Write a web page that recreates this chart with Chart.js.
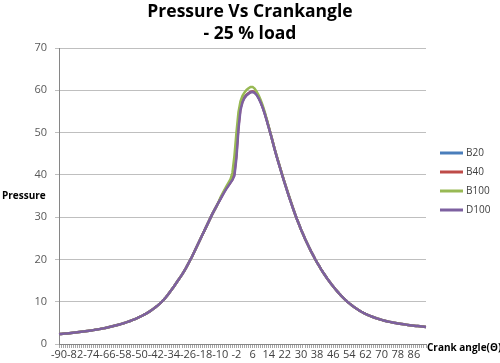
<!DOCTYPE html>
<html>
<head>
<meta charset="utf-8">
<script src="https://cdn.jsdelivr.net/npm/chart.js@4/dist/chart.umd.min.js"></script>
<style>
  html, body { margin: 0; padding: 0; background: #fff; }
  #wrap { width: 500px; height: 363px; }
</style>
</head>
<body>
<div id="wrap"><canvas id="pressureChart" width="500" height="363"></canvas></div>
<script>
// crank angle categories, -90 .. 92 deg in 1 deg steps
const angles = Array.from({ length: 183 }, (_, i) => i - 90);
const seriesNames = ['B20', 'B40', 'B100', 'D100'];
const seriesColors = ['#4A7EBB', '#BE4B48', '#98B954', '#7D60A0'];

const b20 = [
  2.35, 2.39, 2.43, 2.47, 2.51, 2.56, 2.61, 2.66, 2.71, 2.76,
  2.82, 2.88, 2.94, 3.00, 3.07, 3.14, 3.21, 3.28, 3.36, 3.44,
  3.52, 3.61, 3.70, 3.80, 3.90, 4.01, 4.12, 4.24, 4.36, 4.49,
  4.62, 4.76, 4.91, 5.06, 5.22, 5.39, 5.57, 5.76, 5.96, 6.17,
  6.39, 6.62, 6.87, 7.13, 7.41, 7.71, 8.03, 8.37, 8.74, 9.13,
  9.55, 10.0, 10.5, 11.05, 11.65, 12.3, 12.95, 13.6, 14.3, 15.0,
  15.7, 16.4, 17.2, 18.0, 18.9, 19.8, 20.7, 21.7, 22.7, 23.7,
  24.7, 25.7, 26.7, 27.7, 28.7, 29.7, 30.7, 31.6, 32.5, 33.4,
  34.3, 35.2, 36.1, 36.9, 37.6, 38.3, 39.0, 41.0, 46.0, 52.5,
  56.5, 57.8, 58.4, 58.9, 59.3, 59.6, 59.7, 59.5, 59.0, 58.2,
  57.2, 56.0, 54.6, 53.0, 51.3, 49.6, 47.8, 46.0, 44.3, 42.7,
  41.1, 39.5, 38.0, 36.5, 35.0, 33.6, 32.2, 30.8, 29.5, 28.3,
  27.1, 26.0, 24.9, 23.9, 22.9, 21.9, 21.0, 20.1, 19.25, 18.45,
  17.65, 16.9, 16.2, 15.5, 14.85, 14.2, 13.6, 13.0, 12.45, 11.9,
  11.4, 10.9, 10.45, 10.0, 9.6, 9.22, 8.86, 8.52, 8.2, 7.9,
  7.62, 7.36, 7.12, 6.9, 6.69, 6.5, 6.32, 6.15, 5.99, 5.84,
  5.7, 5.57, 5.45, 5.34, 5.23, 5.13, 5.04, 4.95, 4.87, 4.79,
  4.72, 4.65, 4.58, 4.52, 4.46, 4.4, 4.34, 4.28, 4.23, 4.18,
  4.13, 4.08, 4.03
];

const b40 = [
  2.35, 2.39, 2.43, 2.47, 2.51, 2.56, 2.61, 2.66, 2.71, 2.76,
  2.82, 2.88, 2.94, 3.00, 3.07, 3.14, 3.21, 3.28, 3.36, 3.44,
  3.52, 3.61, 3.70, 3.80, 3.90, 4.01, 4.12, 4.24, 4.36, 4.49,
  4.62, 4.76, 4.91, 5.06, 5.22, 5.39, 5.57, 5.76, 5.96, 6.17,
  6.39, 6.62, 6.87, 7.13, 7.41, 7.71, 8.03, 8.37, 8.74, 9.13,
  9.55, 10.0, 10.5, 11.05, 11.65, 12.3, 12.95, 13.6, 14.3, 15.0,
  15.7, 16.4, 17.2, 18.0, 18.9, 19.8, 20.7, 21.7, 22.7, 23.7,
  24.7, 25.7, 26.7, 27.7, 28.7, 29.7, 30.7, 31.6, 32.5, 33.4,
  34.3, 35.2, 36.1, 36.9, 37.5, 38.2, 38.9, 40.3, 45.0, 51.5,
  55.8, 57.4, 58.3, 58.9, 59.3, 59.6, 59.7, 59.6, 59.1, 58.3,
  57.3, 56.0, 54.6, 53.0, 51.3, 49.6, 47.8, 46.0, 44.3, 42.7,
  41.1, 39.5, 38.0, 36.5, 35.0, 33.6, 32.2, 30.8, 29.5, 28.3,
  27.1, 26.0, 24.9, 23.9, 22.9, 21.9, 21.0, 20.1, 19.25, 18.45,
  17.65, 16.9, 16.2, 15.5, 14.85, 14.2, 13.6, 13.0, 12.45, 11.9,
  11.4, 10.9, 10.45, 10.0, 9.6, 9.22, 8.86, 8.52, 8.2, 7.9,
  7.62, 7.36, 7.12, 6.9, 6.69, 6.5, 6.32, 6.15, 5.99, 5.84,
  5.7, 5.57, 5.45, 5.34, 5.23, 5.13, 5.04, 4.95, 4.87, 4.79,
  4.72, 4.65, 4.58, 4.52, 4.46, 4.4, 4.34, 4.28, 4.23, 4.18,
  4.13, 4.08, 4.03
];

const b100 = [
  2.35, 2.39, 2.43, 2.47, 2.51, 2.56, 2.61, 2.66, 2.71, 2.76,
  2.82, 2.88, 2.94, 3.00, 3.07, 3.14, 3.21, 3.28, 3.36, 3.44,
  3.52, 3.61, 3.70, 3.80, 3.90, 4.01, 4.12, 4.24, 4.36, 4.49,
  4.62, 4.76, 4.91, 5.06, 5.22, 5.39, 5.57, 5.76, 5.96, 6.17,
  6.39, 6.62, 6.87, 7.13, 7.41, 7.71, 8.03, 8.37, 8.74, 9.13,
  9.55, 10.0, 10.5, 11.05, 11.65, 12.3, 12.95, 13.6, 14.3, 15.0,
  15.7, 16.4, 17.2, 18.0, 18.9, 19.8, 20.7, 21.7, 22.7, 23.7,
  24.7, 25.7, 26.7, 27.7, 28.7, 29.7, 30.7, 31.6, 32.5, 33.4,
  34.6, 35.5, 36.4, 37.3, 38.1, 38.9, 40.5, 44.5, 50.0, 54.8,
  57.4, 58.7, 59.5, 60.1, 60.5, 60.8, 60.8, 60.4, 59.7, 58.8,
  57.7, 56.4, 54.9, 53.2, 51.4, 49.6, 47.8, 46.0, 44.3, 42.7,
  41.1, 39.5, 38.0, 36.5, 35.0, 33.6, 32.2, 30.8, 29.5, 28.3,
  27.1, 26.0, 24.9, 23.9, 22.9, 21.9, 21.0, 20.1, 19.25, 18.45,
  17.65, 16.9, 16.2, 15.5, 14.85, 14.2, 13.6, 13.0, 12.45, 11.9,
  11.4, 10.9, 10.45, 10.0, 9.6, 9.22, 8.86, 8.52, 8.2, 7.9,
  7.62, 7.36, 7.12, 6.9, 6.69, 6.5, 6.32, 6.15, 5.99, 5.84,
  5.7, 5.57, 5.45, 5.34, 5.23, 5.13, 5.04, 4.95, 4.87, 4.79,
  4.72, 4.65, 4.58, 4.52, 4.46, 4.4, 4.34, 4.28, 4.23, 4.18,
  4.13, 4.08, 4.03
];

const d100 = [
  2.35, 2.39, 2.43, 2.47, 2.51, 2.56, 2.61, 2.66, 2.71, 2.76,
  2.82, 2.88, 2.94, 3.00, 3.07, 3.14, 3.21, 3.28, 3.36, 3.44,
  3.52, 3.61, 3.70, 3.80, 3.90, 4.01, 4.12, 4.24, 4.36, 4.49,
  4.62, 4.76, 4.91, 5.06, 5.22, 5.39, 5.57, 5.76, 5.96, 6.17,
  6.39, 6.62, 6.87, 7.13, 7.41, 7.71, 8.03, 8.37, 8.74, 9.13,
  9.55, 10.0, 10.5, 11.05, 11.65, 12.3, 12.95, 13.6, 14.3, 15.0,
  15.7, 16.4, 17.2, 18.0, 18.9, 19.8, 20.7, 21.7, 22.7, 23.7,
  24.7, 25.7, 26.7, 27.7, 28.7, 29.7, 30.7, 31.6, 32.5, 33.4,
  34.2, 35.1, 35.9, 36.7, 37.4, 38.1, 38.8, 39.8, 44.0, 50.8,
  55.3, 57.2, 58.2, 58.8, 59.2, 59.5, 59.6, 59.4, 58.9, 58.1,
  57.1, 55.9, 54.5, 52.9, 51.2, 49.5, 47.7, 45.9, 44.2, 42.6,
  41.0, 39.4, 37.9, 36.4, 34.9, 33.5, 32.1, 30.8, 29.5, 28.3,
  27.1, 26.0, 24.9, 23.9, 22.9, 21.9, 21.0, 20.1, 19.25, 18.45,
  17.65, 16.9, 16.2, 15.5, 14.85, 14.2, 13.6, 13.0, 12.45, 11.9,
  11.4, 10.9, 10.45, 10.0, 9.6, 9.22, 8.86, 8.52, 8.2, 7.9,
  7.62, 7.36, 7.12, 6.9, 6.69, 6.5, 6.32, 6.15, 5.99, 5.84,
  5.7, 5.57, 5.45, 5.34, 5.23, 5.13, 5.04, 4.95, 4.87, 4.79,
  4.72, 4.65, 4.58, 4.52, 4.46, 4.4, 4.34, 4.28, 4.23, 4.18,
  4.13, 4.08, 4.03
];

const seriesData = [b20, b40, b100, d100];
const yTicks = [0, 10, 20, 30, 40, 50, 60, 70];
const FONT = "'Open Sans', 'Liberation Sans', sans-serif";

// axis titles + legend drawn by hand, Excel style
const extrasPlugin = {
  id: 'extras',
  afterDraw(chart) {
    const ctx = chart.ctx;
    ctx.save();
    ctx.fillStyle = '#000';
    ctx.textBaseline = 'middle';
    ctx.textAlign = 'left';
    ctx.font = 'bold 10px ' + FONT;
    ctx.fillText('Pressure', 2, 196);
    ctx.fillText('Crank angle(\u0398)', 427, 348);

    ctx.font = '10px ' + FONT;
    chart.data.datasets.forEach((ds, i) => {
      const y = 153 + i * 19;
      ctx.strokeStyle = ds.borderColor;
      ctx.lineWidth = 3;
      ctx.beginPath();
      ctx.moveTo(440, y);
      ctx.lineTo(463, y);
      ctx.stroke();
      ctx.fillStyle = '#404040';
      ctx.fillText(ds.label, 466, y);
    });
    ctx.restore();
  }
};

const ctx = document.getElementById('pressureChart');
new Chart(ctx, {
  type: 'line',
  data: {
    labels: angles,
    datasets: seriesNames.map((name, i) => ({
      label: name,
      data: seriesData[i],
      borderColor: seriesColors[i],
      backgroundColor: seriesColors[i],
      borderWidth: 2.5,
      pointRadius: 0,
      tension: 0,
      // last series drawn on top like Excel
      order: seriesNames.length - 1 - i
    }))
  },
  options: {
    responsive: false,
    animation: false,
    devicePixelRatio: 1,
    layout: { padding: 0 },
    plugins: {
      legend: { display: false },
      tooltip: { enabled: false },
      title: {
        display: true,
        text: ['Pressure Vs Crankangle', '- 25 % load'],
        color: '#000',
        font: { family: FONT, size: 17.5, weight: 'bold', lineHeight: '22px' },
        padding: { top: 1, bottom: 3 }
      }
    },
    scales: {
      x: {
        type: 'category',
        offset: false,
        grid: { drawOnChartArea: false, drawTicks: true, tickLength: 4, color: '#a6a6a6' },
        border: { color: '#868686' },
        ticks: {
          autoSkip: false,
          maxRotation: 0,
          minRotation: 0,
          padding: 0,
          color: '#404040',
          font: { family: FONT, size: 11 },
          callback: (val, i) => ((angles[i] + 90) % 8 === 0 ? String(angles[i]) : '')
        },
        afterFit: (scale) => { scale.width = scale.width; scale.height = 19; }
      },
      y: {
        min: yTicks[0],
        max: yTicks[yTicks.length - 1],
        grid: { color: '#bfbfbf', tickLength: 4 },
        border: { color: '#868686' },
        ticks: {
          stepSize: 10,
          padding: 8,
          color: '#595959',
          font: { family: FONT, size: 11 }
        },
        afterFit: (scale) => { scale.width = 59; }
      },
      // empty right-hand axis only reserves room for the legend
      yRight: {
        position: 'right',
        min: yTicks[0],
        max: yTicks[yTicks.length - 1],
        grid: { display: false },
        border: { display: false },
        ticks: { display: false },
        afterFit: (scale) => { scale.width = 74; }
      }
    }
  },
  plugins: [extrasPlugin]
});
</script>
</body>
</html>
